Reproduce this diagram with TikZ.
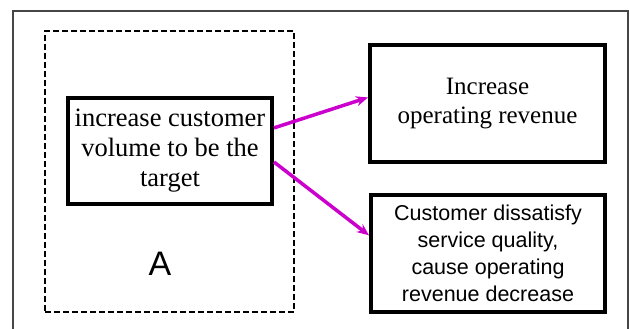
\documentclass[tikz,border=0pt]{standalone}
\usepackage{fontspec}
\setmainfont{Liberation Serif}
\newfontfamily\sansf{Liberation Sans}
\usetikzlibrary{arrows.meta,calc}
\definecolor{arrowmag}{RGB}{204,0,204}
\definecolor{framegray}{RGB}{70,70,70}
\tikzset{
  box/.style={draw=black, line width=4pt, fill=white, align=center, inner sep=0pt},
  link/.style={draw=arrowmag, line width=3.5pt, -{Stealth[length=12pt,width=10pt]}},
}
\begin{document}
\begin{tikzpicture}[x=1pt,y=-1pt]
\useasboundingbox (0,0) rectangle (630,329);
\fill[white] (0,0) rectangle (630,329);
\draw[framegray, line width=1.4pt] (13,340) -- (13,11) -- (628,11) -- (628,340);
\node[draw=black, line width=1.2pt, dash pattern=on 6pt off 3pt, minimum width=249pt, minimum height=281pt, inner sep=0pt] (grp) at (169.5,171.5) {};
\node[box, minimum width=204pt, minimum height=106pt, font=\fontsize{26.5}{30}\selectfont] (b1) at (170,151) {increase customer\\volume to be the\\target};
\node[box, minimum width=235pt, minimum height=117pt, font=\fontsize{25}{29}\selectfont] (b2) at (487.5,103.5) {Increase\\operating revenue};
\node[box, minimum width=234pt, minimum height=117pt, font=\sansf\fontsize{21.5}{27}\selectfont] (b3) at (488,253.5) {Customer dissatisfy\\service quality,\\cause operating\\revenue decrease};
\node[font=\sansf\fontsize{34}{34}\selectfont, inner sep=0pt] (lblA) at (160,264) {A};
\draw[link] ($(b1.north east)!0.29!(b1.south east)$) -- ($(b2.north west)!0.45!(b2.south west)$);
\draw[link] ($(b1.north east)!0.60!(b1.south east)$) -- ($(b3.north west)!0.35!(b3.south west)$);
\end{tikzpicture}
\end{document}
